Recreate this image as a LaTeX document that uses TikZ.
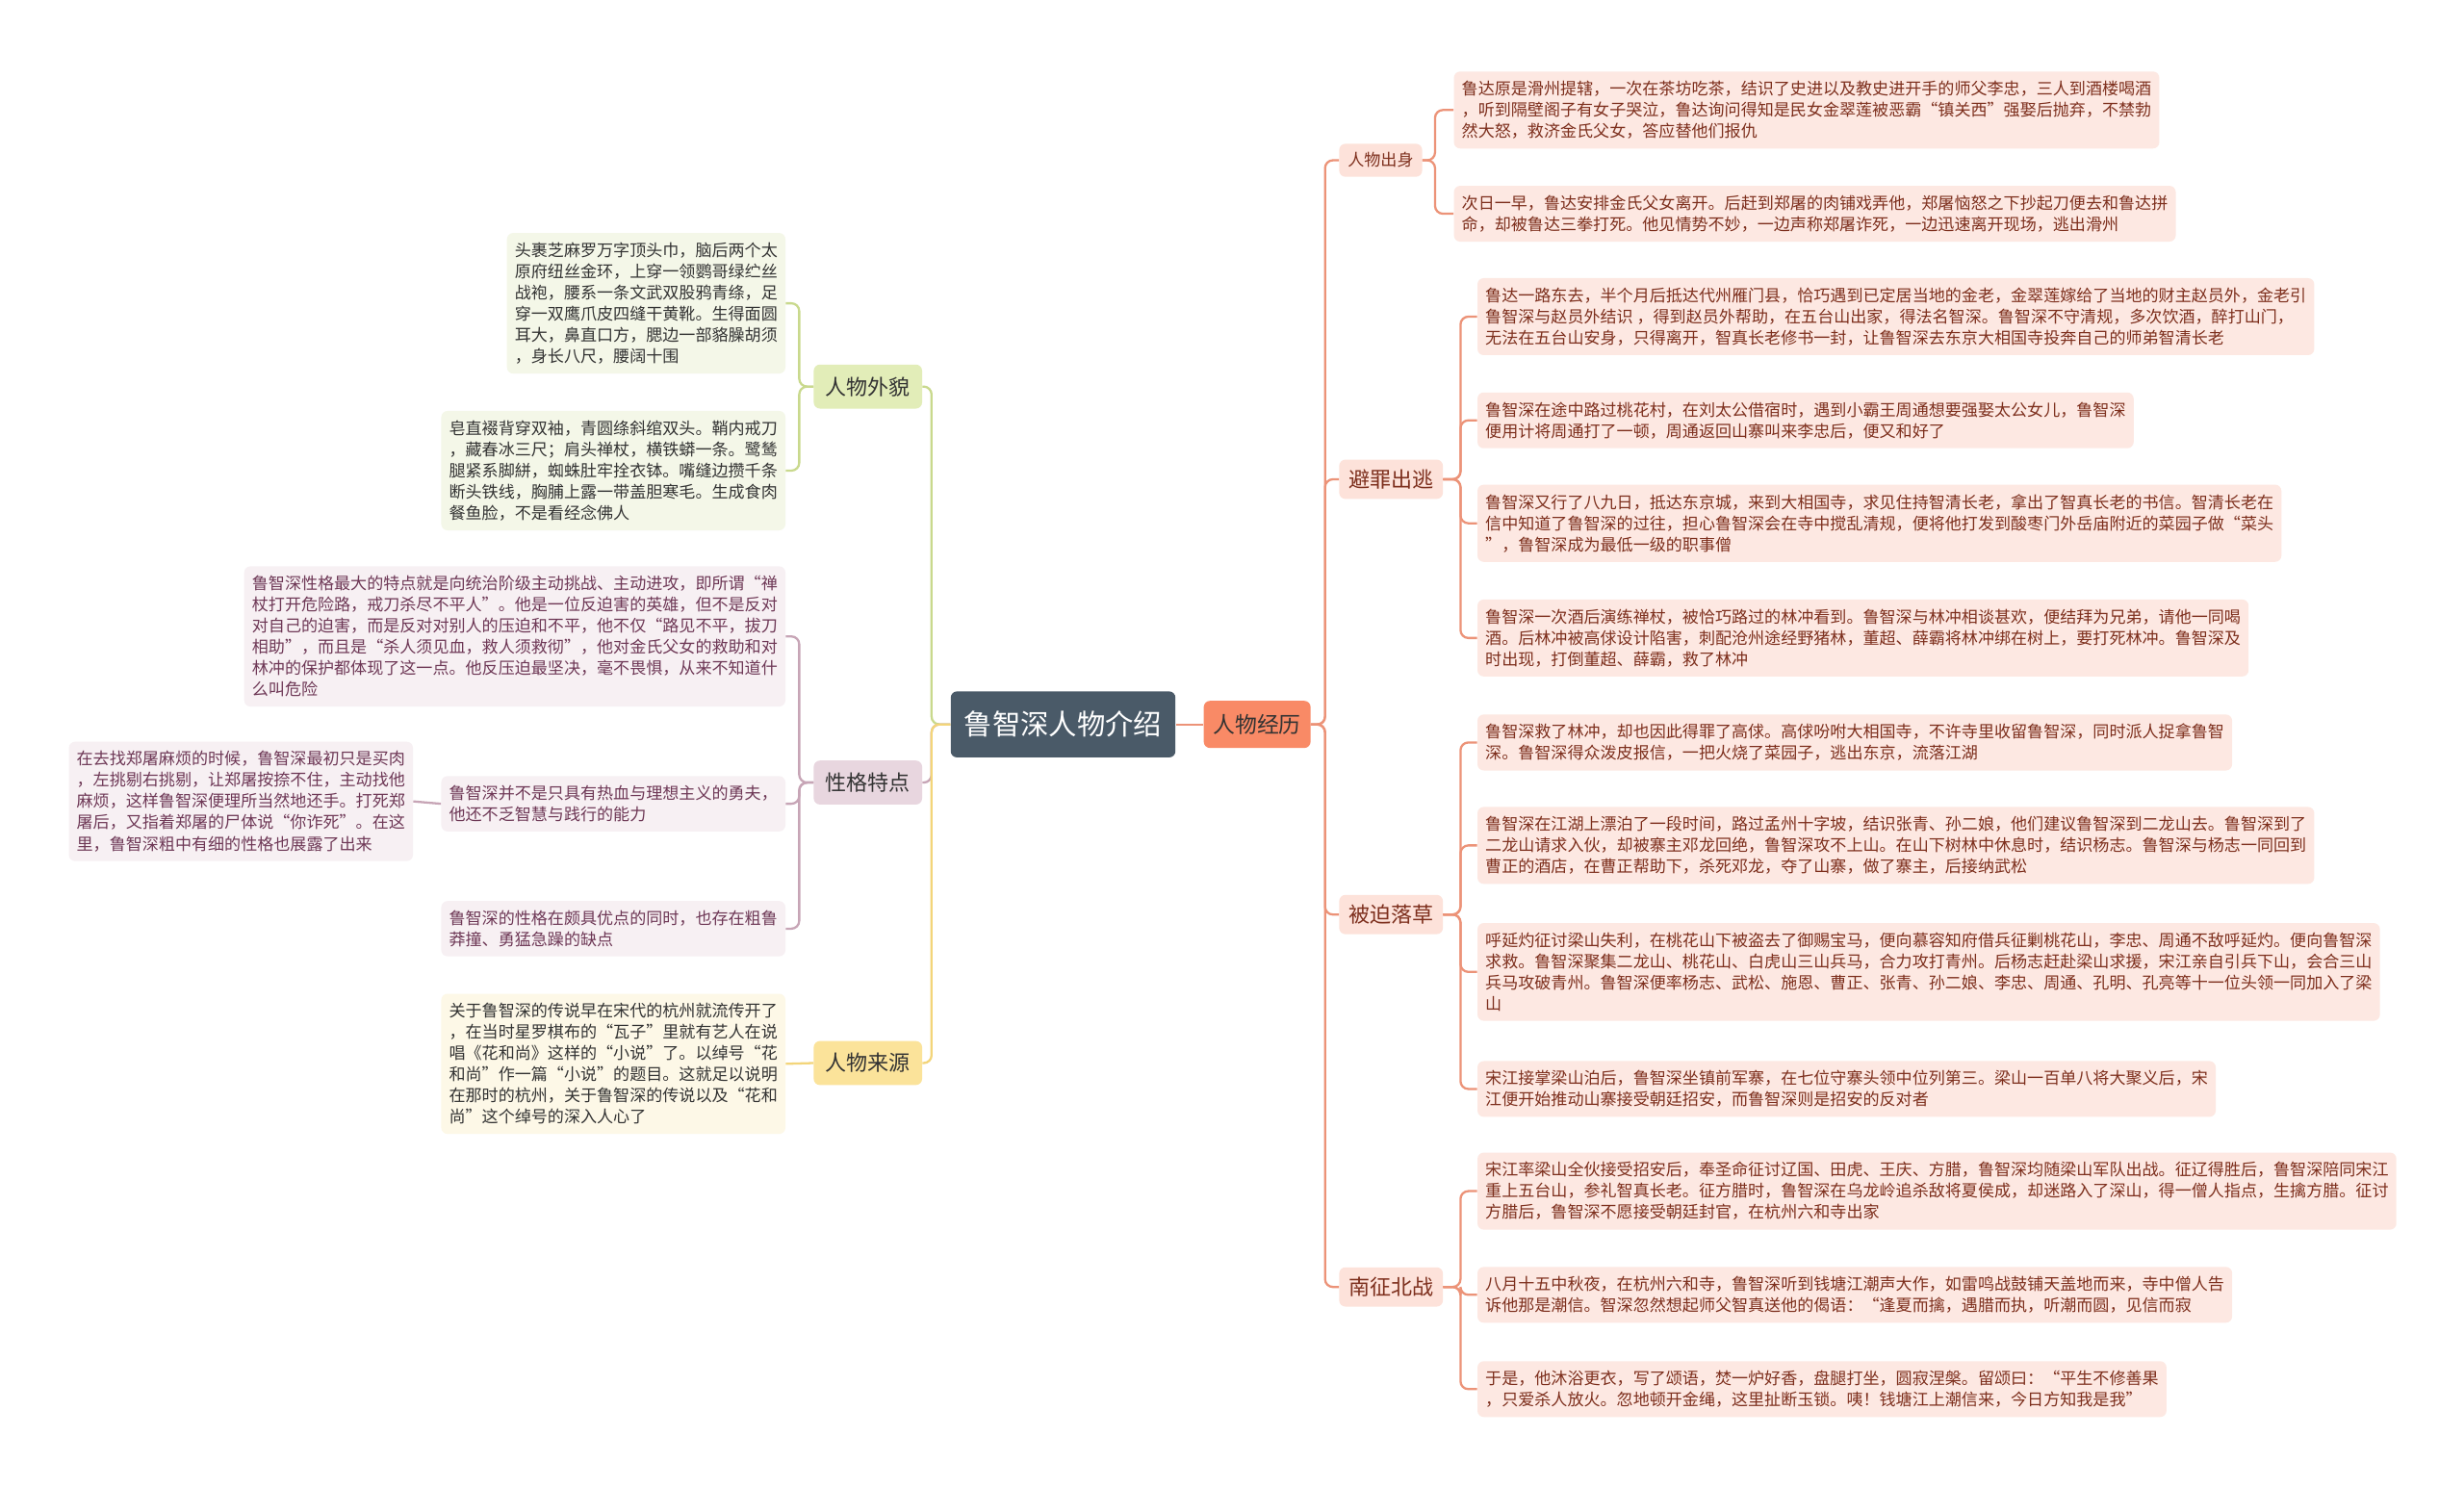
\documentclass[tikz,border=0pt]{standalone}
\usepackage{fontspec}
\setmainfont{Noto Sans CJK SC}
\definecolor{rootfill}{HTML}{4A5A68}
\definecolor{jlfill}{HTML}{F98A66}
\definecolor{rnode}{HTML}{FDE2DA}
\definecolor{rleaf}{HTML}{FDE8E2}
\definecolor{rtext}{HTML}{7D2F1D}
\definecolor{rconn}{HTML}{EC9378}
\definecolor{gnode}{HTML}{E2EDB8}
\definecolor{gleaf}{HTML}{F4F7E8}
\definecolor{gconn}{HTML}{C9D98D}
\definecolor{mnode}{HTML}{E8D6DF}
\definecolor{mleaf}{HTML}{F7F0F3}
\definecolor{mconn}{HTML}{C7A5B6}
\definecolor{mtext}{HTML}{6E3856}
\definecolor{ynode}{HTML}{FBE39A}
\definecolor{yleaf}{HTML}{FDF8E7}
\definecolor{yconn}{HTML}{F3D57A}
\definecolor{dtext}{HTML}{333333}
\newcommand\leaffont{\fontsize{10.45}{13.5}\selectfont}
\newcommand\midfont{\fontsize{13.5}{15}\selectfont}
\tikzset{
  box/.style={rounded corners=4pt, align=left},
  leafR/.style={box, fill=rleaf, text=rtext, font=\leaffont, inner xsep=5pt, inner ysep=6pt, anchor=west},
  leafG/.style={box, fill=gleaf, text=dtext, font=\leaffont, inner xsep=5pt, inner ysep=6pt, anchor=east},
  leafM/.style={box, fill=mleaf, text=mtext, font=\leaffont, inner xsep=5pt, inner ysep=6pt, anchor=east},
  leafY/.style={box, fill=yleaf, text=dtext, font=\leaffont, inner xsep=5pt, inner ysep=6pt, anchor=east},
  midR/.style={box, fill=rnode, text=rtext, font=\midfont, minimum width=66pt, minimum height=25pt, inner sep=0pt, anchor=west},
  midL/.style={box, text=dtext, font=\midfont, minimum width=69pt, minimum height=28pt, inner sep=0pt, anchor=east},
  connR/.style={draw=rconn, line width=1.4pt, rounded corners=5pt},
  connG/.style={draw=gconn, line width=1.4pt, rounded corners=5pt},
  connM/.style={draw=mconn, line width=1.4pt, rounded corners=5pt},
  connY/.style={draw=yconn, line width=1.4pt, rounded corners=5pt},
}
\begin{document}
\begin{tikzpicture}[x=1pt,y=-1pt]
\useasboundingbox[fill=white] (0,0) rectangle (1568,946);

% root and first right branch
\node[box, fill=rootfill, text=white, font=\fontsize{18}{20}\selectfont, minimum width=143pt, minimum height=42pt, inner sep=0pt] (root) at (676.5,461) {鲁智深人物介绍};
\node[box, fill=jlfill, text=dtext, font=\fontsize{14}{16}\selectfont, minimum width=68pt, minimum height=30pt, inner sep=0pt] (jl) at (800,461) {人物经历};

% right level 2
\node[box, fill=rnode, text=rtext, font=\leaffont, minimum height=21pt, inner xsep=5.5pt, inner ysep=0pt, anchor=west] (cs) at (852,102) {人物出身};
\node[midR] (bz) at (852,305) {避罪出逃};
\node[midR] (bp) at (852,582) {被迫落草};
\node[midR] (nz) at (852,819) {南征北战};

% right leaves
\node[leafR] (r1a) at (925,70) {鲁达原是滑州提辖，一次在茶坊吃茶，结识了史进以及教史进开手的师父李忠，三人到酒楼喝酒\\，听到隔壁阁子有女子哭泣，鲁达询问得知是民女金翠莲被恶霸“镇关西”强娶后抛弃，不禁勃\\然大怒，救济金氏父女，答应替他们报仇};
\node[leafR] (r1b) at (925,136) {次日一早，鲁达安排金氏父女离开。后赶到郑屠的肉铺戏弄他，郑屠恼怒之下抄起刀便去和鲁达拼\\命，却被鲁达三拳打死。他见情势不妙，一边声称郑屠诈死，一边迅速离开现场，逃出滑州};

\node[leafR] (r2a) at (940,201.5) {鲁达一路东去，半个月后抵达代州雁门县，恰巧遇到已定居当地的金老，金翠莲嫁给了当地的财主赵员外，金老引\\鲁智深与赵员外结识 ，得到赵员外帮助，在五台山出家，得法名智深。鲁智深不守清规，多次饮酒，醉打山门，\\无法在五台山安身，只得离开，智真长老修书一封，让鲁智深去东京大相国寺投奔自己的师弟智清长老};
\node[leafR] (r2b) at (940,267.5) {鲁智深在途中路过桃花村，在刘太公借宿时，遇到小霸王周通想要强娶太公女儿，鲁智深\\便用计将周通打了一顿，周通返回山寨叫来李忠后，便又和好了};
\node[leafR] (r2c) at (940,333) {鲁智深又行了八九日，抵达东京城，来到大相国寺，求见住持智清长老，拿出了智真长老的书信。智清长老在\\信中知道了鲁智深的过往，担心鲁智深会在寺中搅乱清规，便将他打发到酸枣门外岳庙附近的菜园子做“菜头\\”，鲁智深成为最低一级的职事僧};
\node[leafR] (r2d) at (940,406) {鲁智深一次酒后演练禅杖，被恰巧路过的林冲看到。鲁智深与林冲相谈甚欢，便结拜为兄弟，请他一同喝\\酒。后林冲被高俅设计陷害，刺配沧州途经野猪林，董超、薛霸将林冲绑在树上，要打死林冲。鲁智深及\\时出现，打倒董超、薛霸，救了林冲};

\node[leafR] (r3a) at (940,472.5) {鲁智深救了林冲，却也因此得罪了高俅。高俅吩咐大相国寺，不许寺里收留鲁智深，同时派人捉拿鲁智\\深。鲁智深得众泼皮报信，一把火烧了菜园子，逃出东京，流落江湖};
\node[leafR] (r3b) at (940,538) {鲁智深在江湖上漂泊了一段时间，路过孟州十字坡，结识张青、孙二娘，他们建议鲁智深到二龙山去。鲁智深到了\\二龙山请求入伙，却被寨主邓龙回绝，鲁智深攻不上山。在山下树林中休息时，结识杨志。鲁智深与杨志一同回到\\曹正的酒店，在曹正帮助下，杀死邓龙，夺了山寨，做了寨主，后接纳武松};
\node[leafR] (r3c) at (940,618.5) {呼延灼征讨梁山失利，在桃花山下被盗去了御赐宝马，便向慕容知府借兵征剿桃花山，李忠、周通不敌呼延灼。便向鲁智深\\求救。鲁智深聚集二龙山、桃花山、白虎山三山兵马，合力攻打青州。后杨志赶赴梁山求援，宋江亲自引兵下山，会合三山\\兵马攻破青州。鲁智深便率杨志、武松、施恩、曹正、张青、孙二娘、李忠、周通、孔明、孔亮等十一位头领一同加入了梁\\山};
\node[leafR] (r3d) at (940,693) {宋江接掌梁山泊后，鲁智深坐镇前军寨，在七位守寨头领中位列第三。梁山一百单八将大聚义后，宋\\江便开始推动山寨接受朝廷招安，而鲁智深则是招安的反对者};

\node[leafR] (r4a) at (940,758) {宋江率梁山全伙接受招安后，奉圣命征讨辽国、田虎、王庆、方腊，鲁智深均随梁山军队出战。征辽得胜后，鲁智深陪同宋江\\重上五台山，参礼智真长老。征方腊时，鲁智深在乌龙岭追杀敌将夏侯成，却迷路入了深山，得一僧人指点，生擒方腊。征讨\\方腊后，鲁智深不愿接受朝廷封官，在杭州六和寺出家};
\node[leafR] (r4b) at (940,824) {八月十五中秋夜，在杭州六和寺，鲁智深听到钱塘江潮声大作，如雷鸣战鼓铺天盖地而来，寺中僧人告\\诉他那是潮信。智深忽然想起师父智真送他的偈语：“逢夏而擒，遇腊而执，听潮而圆，见信而寂};
\node[leafR] (r4c) at (940,884) {于是，他沐浴更衣，写了颂语，焚一炉好香，盘腿打坐，圆寂涅槃。留颂曰：“平生不修善果\\，只爱杀人放火。忽地顿开金绳，这里扯断玉锁。咦！钱塘江上潮信来，今日方知我是我”};

% left level 2
\node[midL, fill=gnode] (wm) at (587,246) {人物外貌};
\node[midL, fill=mnode] (xg) at (587,498) {性格特点};
\node[midL, fill=ynode] (ly) at (587,676.5) {人物来源};

% left leaves
\node[leafG] (g1) at (500,193) {头裹芝麻罗万字顶头巾，脑后两个太\\原府纽丝金环，上穿一领鹦哥绿纻丝\\战袍，腰系一条文武双股鸦青绦，足\\穿一双鹰爪皮四缝干黄靴。生得面圆\\耳大，鼻直口方，腮边一部貉臊胡须\\，身长八尺，腰阔十围};
\node[leafG] (g2) at (500,299.5) {皂直裰背穿双袖，青圆绦斜绾双头。鞘内戒刀\\，藏春冰三尺；肩头禅杖，横铁蟒一条。鹭鸶\\腿紧系脚絣，蜘蛛肚牢拴衣钵。嘴缝边攒千条\\断头铁线，胸脯上露一带盖胆寒毛。生成食肉\\餐鱼脸，不是看经念佛人};

\node[leafM] (p1) at (500,405) {鲁智深性格最大的特点就是向统治阶级主动挑战、主动进攻，即所谓“禅\\杖打开危险路，戒刀杀尽不平人”。他是一位反迫害的英雄，但不是反对\\对自己的迫害，而是反对对别人的压迫和不平，他不仅“路见不平，拔刀\\相助”，而且是“杀人须见血，救人须救彻”，他对金氏父女的救助和对\\林冲的保护都体现了这一点。他反压迫最坚决，毫不畏惧，从来不知道什\\么叫危险};
\node[leafM] (p2) at (500,511.5) {鲁智深并不是只具有热血与理想主义的勇夫，\\他还不乏智慧与践行的能力};
\node[leafM] (p2c) at (263,510) {在去找郑屠麻烦的时候，鲁智深最初只是买肉\\，左挑剔右挑剔，让郑屠按捺不住，主动找他\\麻烦，这样鲁智深便理所当然地还手。打死郑\\屠后，又指着郑屠的尸体说“你诈死”。在这\\里，鲁智深粗中有细的性格也展露了出来};
\node[leafM] (p3) at (500,591) {鲁智深的性格在颇具优点的同时，也存在粗鲁\\莽撞、勇猛急躁的缺点};

\node[leafY] (y1) at (500,677) {关于鲁智深的传说早在宋代的杭州就流传开了\\，在当时星罗棋布的“瓦子”里就有艺人在说\\唱《花和尚》这样的“小说”了。以绰号“花\\和尚”作一篇“小说”的题目。这就足以说明\\在那时的杭州，关于鲁智深的传说以及“花和\\尚”这个绰号的深入人心了};

% connectors right
\draw[connR] (root.east) -- (jl.west);
\foreach \c in {cs,bz,bp,nz} \draw[connR] (jl.east) -- ++(9,0) |- (\c.west);
\foreach \c in {r1a,r1b} \draw[connR] (cs.east) -- ++(8,0) |- (\c.west);
\foreach \c in {r2a,r2b,r2c,r2d} \draw[connR] (bz.east) -- ++(11,0) |- (\c.west);
\foreach \c in {r3a,r3b,r3c,r3d} \draw[connR] (bp.east) -- ++(11,0) |- (\c.west);
\foreach \c in {r4a,r4b,r4c} \draw[connR] (nz.east) -- ++(11,0) |- (\c.west);

% connectors left
\draw[connG] (root.west) -- ++(-12,0) |- (wm.east);
\draw[connM] (root.west) -- ++(-12,0) |- (xg.east);
\draw[connY] (root.west) -- ++(-12,0) |- (ly.east);
\foreach \c in {g1,g2} \draw[connG] (wm.west) -- ++(-9,0) |- (\c.east);
\foreach \c in {p1,p2,p3} \draw[connM] (xg.west) -- ++(-9,0) |- (\c.east);
\draw[connM] (p2.west) -- (p2c.east);
\draw[connY] (ly.west) -- (y1.east);
\end{tikzpicture}
\end{document}
